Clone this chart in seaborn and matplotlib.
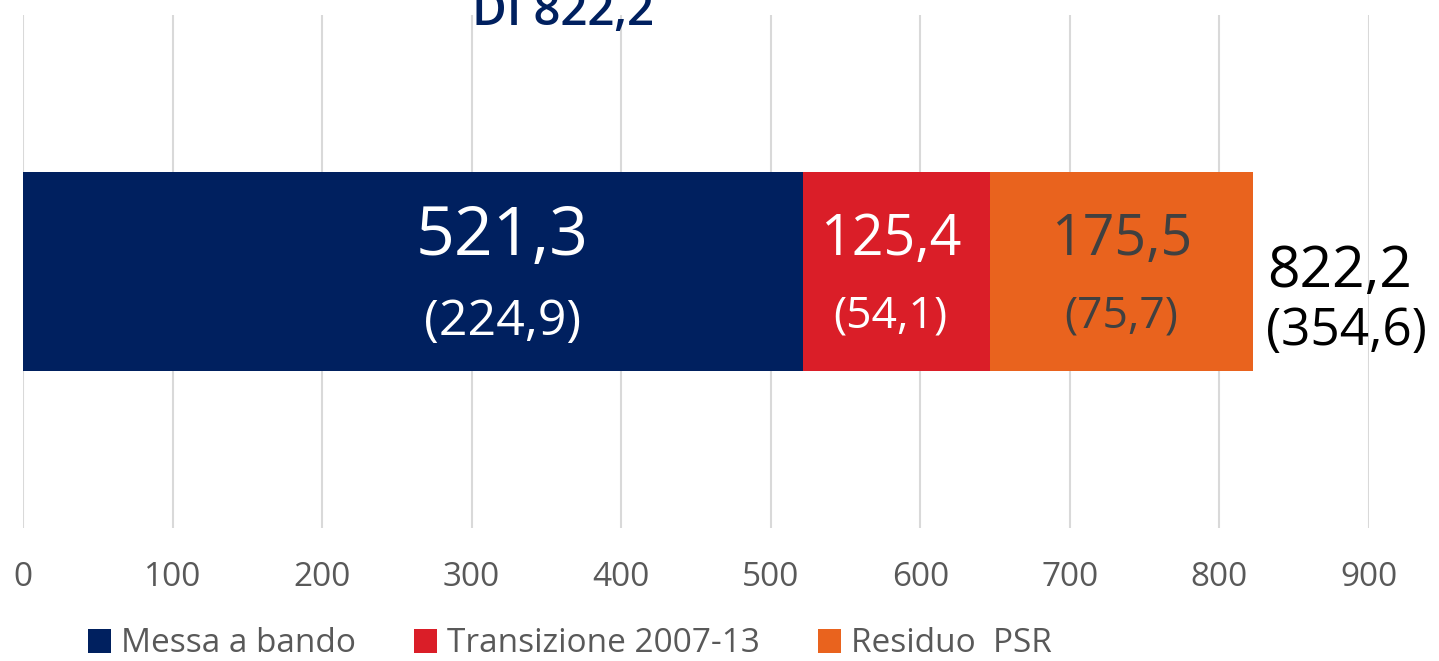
import matplotlib
matplotlib.use("Agg")
import matplotlib.pyplot as plt
from matplotlib.patches import Patch
import numpy as np
import pandas as pd
import seaborn as sns

# data
series = ["Messa a bando", "Transizione 2007-13", "Residuo  PSR"]
values = [521.3, 125.4, 175.5]
quota = [224.9, 54.1, 75.7]          # values in brackets
total = 822.2
total_quota = 354.6
title = "DI 822,2"
xticks = [0, 100, 200, 300, 400, 500, 600, 700, 800, 900]

colors = ["#00205F", "#DA1E28", "#E9631E"]
label_colors = ["white", "white", "#404040"]
label_pos = [0.615, 0.47, 0.5]       # where the label sits inside each segment

def fmt(v):
    return f"{v:.1f}".replace(".", ",")

cum = np.cumsum(values)
df = pd.DataFrame({"series": series, "cum": cum, "row": "DI"})

sns.set_style("white")
plt.rcParams["font.family"] = ["Open Sans", "DejaVu Sans"]

fig = plt.figure(figsize=(14.39, 6.61), dpi=100)
ax = fig.add_axes([23 / 1439, 1 - 528 / 661, 1346 / 1439, 513 / 661])

# overlapping cumulative bars, longest first -> stacked look
order = series[::-1]
sns.barplot(data=df, x="cum", y="row", hue="series", hue_order=order,
            palette=dict(zip(series, colors)), dodge=False, orient="h",
            width=0.386, legend=False, saturation=1, linewidth=0, ax=ax)

ax.set_xlim(0, 900)
ax.set_ylim(0.5, -0.5)
ax.set_xticks(xticks)
ax.set_xticklabels([str(t) for t in xticks])
ax.set_yticks([])
ax.set_xlabel("")
ax.set_ylabel("")
ax.xaxis.grid(True, color="#D9D9D9", linewidth=1.5)
ax.set_axisbelow(True)
for s in ax.spines.values():
    s.set_visible(False)
ax.tick_params(axis="x", length=0, pad=24, labelsize=24, labelcolor="#595959")

# segment labels
starts = np.concatenate([[0], cum[:-1]])
big_sizes = [49, 40, 40]
small_sizes = [36, 32, 32]
for i in range(len(values)):
    xc = starts[i] + values[i] * label_pos[i]
    ax.text(xc, -0.033, fmt(values[i]), ha="center", va="baseline",
            fontsize=big_sizes[i], color=label_colors[i])
    ax.text(xc, 0.124 if i == 0 else 0.11, f"({fmt(quota[i])})", ha="center",
            va="baseline", fontsize=small_sizes[i], color=label_colors[i])

# total at the end of the bar
ax.text(total + 10, 0.03, fmt(total), ha="left", va="baseline",
        fontsize=41, color="black", clip_on=False)
ax.text(total + 9, 0.143, f"({fmt(total_quota)})", ha="left", va="baseline",
        fontsize=37, color="black", clip_on=False)

# title, partly cut off at the top (as in the original)
fig.text(563 / 1439, 1 - 25 / 661, title, ha="center", va="baseline",
         fontsize=34, fontweight="semibold", color="#00205F")

handles = [Patch(facecolor=c, edgecolor="none") for c in colors]
leg = fig.legend(handles, series, loc="center left",
                 bbox_to_anchor=(58 / 1439, 1 - 644 / 661), ncol=3,
                 frameon=False, fontsize=24, handlelength=0.68,
                 handleheight=0.75, handletextpad=0.3, columnspacing=1.75)
for t in leg.get_texts():
    t.set_color("#595959")

fig.savefig("out.png", dpi=100)
